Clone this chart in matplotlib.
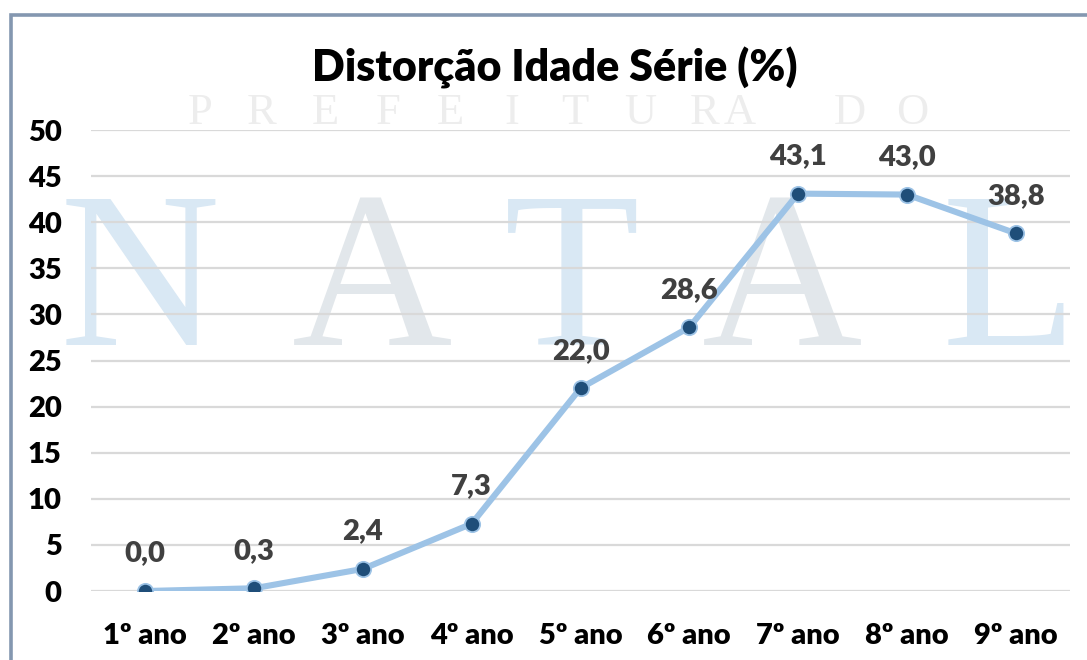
import numpy as np
import matplotlib
matplotlib.use("Agg")
import matplotlib.pyplot as plt
from matplotlib.patches import Rectangle

categorias = ["1º ano", "2º ano", "3º ano", "4º ano", "5º ano",
              "6º ano", "7º ano", "8º ano", "9º ano"]
distorcao = [0.0, 0.3, 2.4, 7.3, 22.0, 28.6, 43.1, 43.0, 38.8]
titulo = "Distorção Idade Série (%)"

plt.rcParams['font.family'] = ['Lato', 'DejaVu Sans']

fig = plt.figure(figsize=(10.87, 6.6), dpi=100)
ax = fig.add_axes([0.0837, 0.1045, 0.9007, 0.6985])
ax.set_facecolor('none')

# moldura (so topo e esquerda aparecem)
fig.patches.append(Rectangle((11 / 1087, -0.1), 1.2, 1.1 - 14.5 / 660,
                             transform=fig.transFigure, fill=False,
                             edgecolor='#8497B0', linewidth=2.6, zorder=0))

# marca d'agua
for letra, xpx, cor in [("N", 140, '#D9E8F4'), ("A", 372, '#E2E7EB'),
                        ("T", 572, '#D9E8F4'), ("A", 782, '#E2E7EB'),
                        ("L", 1010, '#D9E8F4')]:
    fig.text(xpx / 1087, 1 - 345 / 660, letra, family='Liberation Serif',
             fontsize=160, color=cor, ha='center', va='baseline', zorder=-1)
for letra, xpx in zip("PREFEITURADO", [200, 262, 325, 388, 450, 512,
                                       575, 640, 705, 740, 850, 912]):
    fig.text(xpx / 1087, 1 - 124 / 660, letra, family='Liberation Serif',
             fontsize=32, color='#EDEDED', ha='center', va='baseline',
             zorder=-1)

x = np.arange(len(categorias))
ax.plot(x, distorcao, color='#9DC3E6', linewidth=4.4, zorder=3,
        marker='o', markersize=11, markerfacecolor='#1F4E79',
        markeredgecolor='#9DC3E6', markeredgewidth=1.3, solid_capstyle='round')

for xi, v in zip(x, distorcao):
    ax.annotate(f"{v:.1f}".replace('.', ','), (xi, v), xytext=(0, 27),
                textcoords='offset points', ha='center', va='center',
                fontsize=21, fontweight='heavy', color='#404040', zorder=4)

ax.set_xlim(-0.5, len(categorias) - 0.5)
ax.set_ylim(0, 50)
ax.set_yticks(np.arange(0, 51, 5))
ax.set_xticks(x)
ax.set_xticklabels(categorias)
ax.tick_params(axis='both', length=0, labelsize=21, labelcolor='black')
ax.tick_params(axis='y', pad=21)
ax.tick_params(axis='x', pad=23)
for lab in ax.get_xticklabels() + ax.get_yticklabels():
    lab.set_fontweight('heavy')

ax.yaxis.grid(True, color='#D9D9D9', linewidth=1.6)
ax.set_axisbelow(True)
for s in ax.spines.values():
    s.set_visible(False)

fig.text(555 / 1087, 1 - 68 / 660, titulo, ha='center', va='center',
         fontsize=31, fontweight='heavy', color='black')

fig.savefig("out.png", dpi=100, facecolor='white')
